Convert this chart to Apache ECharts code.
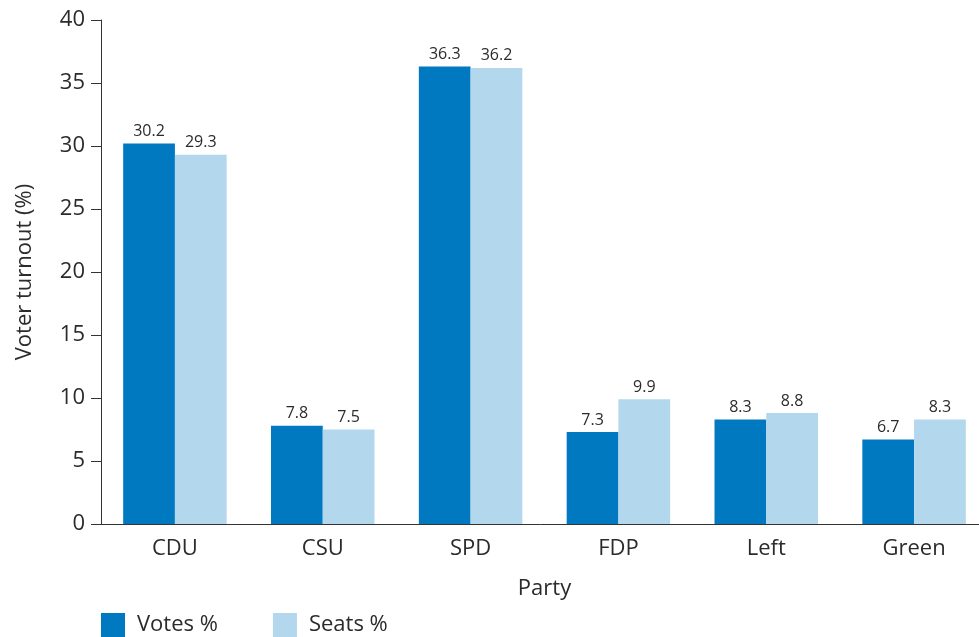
<!DOCTYPE html>
<html>
<head>
<meta charset="utf-8">
<style>
html, body { margin: 0; padding: 0; background: #fff; }
#chart { width: 979px; height: 637px; }
</style>
<script src="https://cdn.jsdelivr.net/npm/echarts@6/dist/echarts.min.js"></script>
</head>
<body>
<div id="chart"></div>
<script>
// parties on the x axis
var parties = ['CDU', 'CSU', 'SPD', 'FDP', 'Left', 'Green'];
// share of votes, in %
var votes = [30.2, 7.8, 36.3, 7.3, 8.3, 6.7];
// share of seats, in %
var seats = [29.3, 7.5, 36.2, 9.9, 8.8, 8.3];

var textColor = '#2b2b2b';
var fontName = 'Open Sans';

var chart = echarts.init(document.getElementById('chart'));
chart.setOption({
	animation: false,
	textStyle: {
		fontFamily: fontName,
		color: textColor
	},
	grid: {
		left: 101,
		right: -9,
		top: 20,
		bottom: 113,
		containLabel: false,
		outerBoundsMode: 'none'
	},
	legend: {
		left: 101,
		top: 613,
		padding: 0,
		icon: 'rect',
		itemWidth: 24,
		itemHeight: 24,
		itemGap: 55,
		textStyle: {
			fontSize: 22,
			color: textColor,
			fontFamily: fontName,
			padding: [0, 0, 0, 7]
		},
		data: ['Votes %', 'Seats %']
	},
	xAxis: {
		type: 'category',
		data: parties,
		name: 'Party',
		nameLocation: 'middle',
		nameGap: 54,
		nameTextStyle: {
			fontSize: 22,
			color: textColor
		},
		axisLine: {
			lineStyle: {
				color: '#333',
				width: 1
			}
		},
		axisTick: {
			length: 13,
			lineStyle: {
				color: '#333'
			}
		},
		axisLabel: {
			fontSize: 22,
			color: textColor,
			margin: 14
		}
	},
	yAxis: {
		type: 'value',
		min: 0,
		max: 40,
		interval: 5,
		name: 'Voter turnout (%)',
		nameLocation: 'middle',
		nameGap: 65,
		nameTextStyle: {
			fontSize: 22,
			color: textColor
		},
		axisLine: {
			show: true,
			lineStyle: {
				color: '#333',
				width: 1
			}
		},
		axisTick: {
			show: true,
			length: 10,
			lineStyle: {
				color: '#333'
			}
		},
		axisLabel: {
			fontSize: 22,
			color: textColor,
			margin: 16
		},
		splitLine: {
			show: false
		}
	},
	series: [{
		name: 'Votes %',
		type: 'bar',
		data: votes,
		barGap: '0%',
		barCategoryGap: '30%',
		itemStyle: {
			color: '#0079c1'
		},
		label: {
			show: true,
			position: 'top',
			distance: 4,
			fontSize: 16,
			color: textColor
		}
	}, {
		name: 'Seats %',
		type: 'bar',
		data: seats,
		itemStyle: {
			color: '#b3d7ed'
		},
		label: {
			show: true,
			position: 'top',
			distance: 4,
			fontSize: 16,
			color: textColor
		}
	}]
});
</script>
</body>
</html>
